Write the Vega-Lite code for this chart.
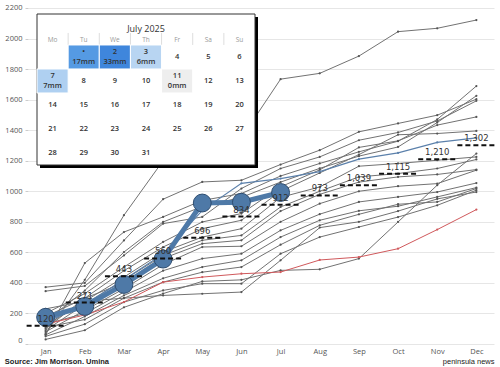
{
  "$schema": "https://vega.github.io/schema/vega-lite/v6.json",
  "width": 466,
  "height": 340,
  "autosize": {"type": "none"},
  "padding": {"left": 28, "top": 4, "right": 6, "bottom": 23},
  "config": {"view": {"stroke": null}, "font": "Open Sans"},
  "title": {"text": "Source: Jim Morrison. Umina", "orient": "bottom", "anchor": "start", "frame": "bounds", "font": "Liberation Sans", "fontSize": 7.5, "fontWeight": "bold", "color": "#222", "offset": -7},
  "datasets": {
    "series": [
      {"year":2006,"month":"Jan","value":70},{"year":2006,"month":"Feb","value":420},{"year":2006,"month":"Mar","value":843},{"year":2006,"month":"Apr","value":1200},{"year":2006,"month":"May","value":1250},{"year":2006,"month":"Jun","value":1350},{"year":2006,"month":"Jul","value":1734},{"year":2006,"month":"Aug","value":1772},{"year":2006,"month":"Sep","value":1885},{"year":2006,"month":"Oct","value":2045},{"year":2006,"month":"Nov","value":2067},{"year":2006,"month":"Dec","value":2121},
      {"year":2007,"month":"Jan","value":60},{"year":2007,"month":"Feb","value":530},{"year":2007,"month":"Mar","value":733},{"year":2007,"month":"Apr","value":832},{"year":2007,"month":"May","value":940},{"year":2007,"month":"Jun","value":985},{"year":2007,"month":"Jul","value":1100},{"year":2007,"month":"Aug","value":1182},{"year":2007,"month":"Sep","value":1258},{"year":2007,"month":"Oct","value":1328},{"year":2007,"month":"Nov","value":1470},{"year":2007,"month":"Dec","value":1689},
      {"year":2008,"month":"Jan","value":150},{"year":2008,"month":"Feb","value":350},{"year":2008,"month":"Mar","value":602},{"year":2008,"month":"Apr","value":799},{"year":2008,"month":"May","value":900},{"year":2008,"month":"Jun","value":960},{"year":2008,"month":"Jul","value":1060},{"year":2008,"month":"Aug","value":1150},{"year":2008,"month":"Sep","value":1230},{"year":2008,"month":"Oct","value":1290},{"year":2008,"month":"Nov","value":1450},{"year":2008,"month":"Dec","value":1625},
      {"year":2009,"month":"Jan","value":372},{"year":2009,"month":"Feb","value":400},{"year":2009,"month":"Mar","value":678},{"year":2009,"month":"Apr","value":948},{"year":2009,"month":"May","value":1061},{"year":2009,"month":"Jun","value":1072},{"year":2009,"month":"Jul","value":1175},{"year":2009,"month":"Aug","value":1269},{"year":2009,"month":"Sep","value":1389},{"year":2009,"month":"Oct","value":1444},{"year":2009,"month":"Nov","value":1498},{"year":2009,"month":"Dec","value":1603},
      {"year":2010,"month":"Jan","value":346},{"year":2010,"month":"Feb","value":380},{"year":2010,"month":"Mar","value":580},{"year":2010,"month":"Apr","value":788},{"year":2010,"month":"May","value":832},{"year":2010,"month":"Jun","value":1018},{"year":2010,"month":"Jul","value":1149},{"year":2010,"month":"Aug","value":1225},{"year":2010,"month":"Sep","value":1334},{"year":2010,"month":"Oct","value":1385},{"year":2010,"month":"Nov","value":1460},{"year":2010,"month":"Dec","value":1592},
      {"year":2011,"month":"Jan","value":200},{"year":2011,"month":"Feb","value":330},{"year":2011,"month":"Mar","value":504},{"year":2011,"month":"Apr","value":668},{"year":2011,"month":"May","value":799},{"year":2011,"month":"Jun","value":854},{"year":2011,"month":"Jul","value":1029},{"year":2011,"month":"Aug","value":1140},{"year":2011,"month":"Sep","value":1287},{"year":2011,"month":"Oct","value":1330},{"year":2011,"month":"Nov","value":1433},{"year":2011,"month":"Dec","value":1487},
      {"year":2012,"month":"Jan","value":100},{"year":2012,"month":"Feb","value":300},{"year":2012,"month":"Mar","value":480},{"year":2012,"month":"Apr","value":635},{"year":2012,"month":"May","value":755},{"year":2012,"month":"Jun","value":810},{"year":2012,"month":"Jul","value":1000},{"year":2012,"month":"Aug","value":1120},{"year":2012,"month":"Sep","value":1240},{"year":2012,"month":"Oct","value":1370},{"year":2012,"month":"Nov","value":1378},{"year":2012,"month":"Dec","value":1395},
      {"year":2013,"month":"Jan","value":30},{"year":2013,"month":"Feb","value":90},{"year":2013,"month":"Mar","value":240},{"year":2013,"month":"Apr","value":330},{"year":2013,"month":"May","value":410},{"year":2013,"month":"Jun","value":420},{"year":2013,"month":"Jul","value":482},{"year":2013,"month":"Aug","value":489},{"year":2013,"month":"Sep","value":559},{"year":2013,"month":"Oct","value":799},{"year":2013,"month":"Nov","value":1040},{"year":2013,"month":"Dec","value":1247},
      {"year":2014,"month":"Jan","value":120},{"year":2014,"month":"Feb","value":280},{"year":2014,"month":"Mar","value":438},{"year":2014,"month":"Apr","value":602},{"year":2014,"month":"May","value":700},{"year":2014,"month":"Jun","value":755},{"year":2014,"month":"Jul","value":960},{"year":2014,"month":"Aug","value":1028},{"year":2014,"month":"Sep","value":1164},{"year":2014,"month":"Oct","value":1182},{"year":2014,"month":"Nov","value":1203},{"year":2014,"month":"Dec","value":1225},
      {"year":2015,"month":"Jan","value":90},{"year":2015,"month":"Feb","value":260},{"year":2015,"month":"Mar","value":420},{"year":2015,"month":"Apr","value":580},{"year":2015,"month":"May","value":679},{"year":2015,"month":"Jun","value":711},{"year":2015,"month":"Jul","value":897},{"year":2015,"month":"Aug","value":1000},{"year":2015,"month":"Sep","value":1094},{"year":2015,"month":"Oct","value":1116},{"year":2015,"month":"Nov","value":1149},{"year":2015,"month":"Dec","value":1208},
      {"year":2016,"month":"Jan","value":180},{"year":2016,"month":"Feb","value":300},{"year":2016,"month":"Mar","value":400},{"year":2016,"month":"Apr","value":560},{"year":2016,"month":"May","value":657},{"year":2016,"month":"Jun","value":679},{"year":2016,"month":"Jul","value":870},{"year":2016,"month":"Aug","value":980},{"year":2016,"month":"Sep","value":1060},{"year":2016,"month":"Oct","value":1094},{"year":2016,"month":"Nov","value":1110},{"year":2016,"month":"Dec","value":1142},
      {"year":2017,"month":"Jan","value":80},{"year":2017,"month":"Feb","value":220},{"year":2017,"month":"Mar","value":362},{"year":2017,"month":"Apr","value":520},{"year":2017,"month":"May","value":635},{"year":2017,"month":"Jun","value":640},{"year":2017,"month":"Jul","value":800},{"year":2017,"month":"Aug","value":919},{"year":2017,"month":"Sep","value":1000},{"year":2017,"month":"Oct","value":1033},{"year":2017,"month":"Nov","value":1050},{"year":2017,"month":"Dec","value":1138},
      {"year":2018,"month":"Jan","value":130},{"year":2018,"month":"Feb","value":200},{"year":2018,"month":"Mar","value":340},{"year":2018,"month":"Apr","value":480},{"year":2018,"month":"May","value":559},{"year":2018,"month":"Jun","value":591},{"year":2018,"month":"Jul","value":744},{"year":2018,"month":"Aug","value":850},{"year":2018,"month":"Sep","value":930},{"year":2018,"month":"Oct","value":963},{"year":2018,"month":"Nov","value":995},{"year":2018,"month":"Dec","value":1054},
      {"year":2020,"month":"Jan","value":60},{"year":2020,"month":"Feb","value":180},{"year":2020,"month":"Mar","value":318},{"year":2020,"month":"Apr","value":430},{"year":2020,"month":"May","value":504},{"year":2020,"month":"Jun","value":548},{"year":2020,"month":"Jul","value":700},{"year":2020,"month":"Aug","value":810},{"year":2020,"month":"Sep","value":872},{"year":2020,"month":"Oct","value":902},{"year":2020,"month":"Nov","value":963},{"year":2020,"month":"Dec","value":1024},
      {"year":2021,"month":"Jan","value":110},{"year":2021,"month":"Feb","value":160},{"year":2021,"month":"Mar","value":300},{"year":2021,"month":"Apr","value":405},{"year":2021,"month":"May","value":470},{"year":2021,"month":"Jun","value":504},{"year":2021,"month":"Jul","value":650},{"year":2021,"month":"Aug","value":777},{"year":2021,"month":"Sep","value":849},{"year":2021,"month":"Oct","value":915},{"year":2021,"month":"Nov","value":930},{"year":2021,"month":"Dec","value":1018},
      {"year":2022,"month":"Jan","value":50},{"year":2022,"month":"Feb","value":130},{"year":2022,"month":"Mar","value":274},{"year":2022,"month":"Apr","value":351},{"year":2022,"month":"May","value":395},{"year":2022,"month":"Jun","value":395},{"year":2022,"month":"Jul","value":591},{"year":2022,"month":"Aug","value":700},{"year":2022,"month":"Sep","value":766},{"year":2022,"month":"Oct","value":831},{"year":2022,"month":"Nov","value":908},{"year":2022,"month":"Dec","value":1007},
      {"year":2023,"month":"Jan","value":230},{"year":2023,"month":"Feb","value":280},{"year":2023,"month":"Mar","value":300},{"year":2023,"month":"Apr","value":318},{"year":2023,"month":"May","value":329},{"year":2023,"month":"Jun","value":340},{"year":2023,"month":"Jul","value":548},{"year":2023,"month":"Aug","value":762},{"year":2023,"month":"Sep","value":800},{"year":2023,"month":"Oct","value":870},{"year":2023,"month":"Nov","value":950},{"year":2023,"month":"Dec","value":995},
      {"year":2019,"month":"Jan","value":130},{"year":2019,"month":"Feb","value":190},{"year":2019,"month":"Mar","value":275},{"year":2019,"month":"Apr","value":405},{"year":2019,"month":"May","value":438},{"year":2019,"month":"Jun","value":460},{"year":2019,"month":"Jul","value":471},{"year":2019,"month":"Aug","value":550},{"year":2019,"month":"Sep","value":569},{"year":2019,"month":"Oct","value":624},{"year":2019,"month":"Nov","value":749},{"year":2019,"month":"Dec","value":880},
      {"year":2024,"month":"Jan","value":140},{"year":2024,"month":"Feb","value":260},{"year":2024,"month":"Mar","value":420},{"year":2024,"month":"Apr","value":590},{"year":2024,"month":"May","value":875},{"year":2024,"month":"Jun","value":1052},{"year":2024,"month":"Jul","value":1083},{"year":2024,"month":"Aug","value":1129},{"year":2024,"month":"Sep","value":1210},{"year":2024,"month":"Oct","value":1251},{"year":2024,"month":"Nov","value":1320},{"year":2024,"month":"Dec","value":1350},
      {"year":2025,"month":"Jan","value":175},{"year":2025,"month":"Feb","value":246},{"year":2025,"month":"Mar","value":390},{"year":2025,"month":"Apr","value":556},{"year":2025,"month":"May","value":923},{"year":2025,"month":"Jun","value":928},{"year":2025,"month":"Jul","value":992}
    ],
    "avg": [
      {"month":"Jan","value":120},{"month":"Feb","value":271},{"month":"Mar","value":443},{"month":"Apr","value":560},{"month":"May","value":696},{"month":"Jun","value":834},{"month":"Jul","value":912},{"month":"Aug","value":973},{"month":"Sep","value":1039},{"month":"Oct","value":1115},{"month":"Nov","value":1210},{"month":"Dec","value":1302}
    ],
    "days": [
      {"day":1,"label":"•","dow":2,"week":1,"mm":17,"rain":"17mm"},
      {"day":2,"label":"2","dow":3,"week":1,"mm":33,"rain":"33mm"},
      {"day":3,"label":"3","dow":4,"week":1,"mm":6,"rain":"6mm"},
      {"day":4,"label":"4","dow":5,"week":1},
      {"day":5,"label":"5","dow":6,"week":1},
      {"day":6,"label":"6","dow":7,"week":1},
      {"day":7,"label":"7","dow":1,"week":2,"mm":7,"rain":"7mm"},
      {"day":8,"label":"8","dow":2,"week":2},
      {"day":9,"label":"9","dow":3,"week":2},
      {"day":10,"label":"10","dow":4,"week":2},
      {"day":11,"label":"11","dow":5,"week":2,"mm":0,"rain":"0mm"},
      {"day":12,"label":"12","dow":6,"week":2},
      {"day":13,"label":"13","dow":7,"week":2},
      {"day":14,"label":"14","dow":1,"week":3},
      {"day":15,"label":"15","dow":2,"week":3},
      {"day":16,"label":"16","dow":3,"week":3},
      {"day":17,"label":"17","dow":4,"week":3},
      {"day":18,"label":"18","dow":5,"week":3},
      {"day":19,"label":"19","dow":6,"week":3},
      {"day":20,"label":"20","dow":7,"week":3},
      {"day":21,"label":"21","dow":1,"week":4},
      {"day":22,"label":"22","dow":2,"week":4},
      {"day":23,"label":"23","dow":3,"week":4},
      {"day":24,"label":"24","dow":4,"week":4},
      {"day":25,"label":"25","dow":5,"week":4},
      {"day":26,"label":"26","dow":6,"week":4},
      {"day":27,"label":"27","dow":7,"week":4},
      {"day":28,"label":"28","dow":1,"week":5},
      {"day":29,"label":"29","dow":2,"week":5},
      {"day":30,"label":"30","dow":3,"week":5},
      {"day":31,"label":"31","dow":4,"week":5}
    ],
    "weekdays": [
      {"name":"Mo","dow":1},{"name":"Tu","dow":2},{"name":"We","dow":3},{"name":"Th","dow":4},{"name":"Fr","dow":5},{"name":"Sa","dow":6},{"name":"Su","dow":7}
    ],
    "caltitle": [{"title":"July 2025"}]
  },
  "layer": [
    {
      "encoding": {
        "x": {"field": "month", "type": "ordinal", "scale": {"type": "point", "domain": ["Jan","Feb","Mar","Apr","May","Jun","Jul","Aug","Sep","Oct","Nov","Dec"], "padding": 0.45},
          "axis": {"labelAngle": 0, "labelFontSize": 7.5, "labelColor": "#555", "ticks": false, "domain": false, "labelPadding": 3, "grid": false, "title": "peninsula news", "titleAnchor": "end", "titleFont": "Liberation Sans", "titleFontSize": 7.5, "titleFontWeight": "normal", "titleColor": "#222", "titlePadding": 3}},
        "y": {"field": "value", "type": "quantitative", "scale": {"domain": [0, 2226], "nice": false, "zero": false},
          "axis": {"values": [0,200,400,600,800,1000,1200,1400,1600,1800,2000,2200], "format": "d", "labelFontSize": 7.5, "labelColor": "#555", "tickColor": "#ccc", "tickSize": 3, "labelPadding": 3, "domain": false, "gridColor": "#e6e6e6", "title": null, "labelFlush": true, "labelFlushOffset": 0}}
      },
      "layer": [
        {"data": {"name": "series"}, "transform": [{"filter": "datum.year < 2024 && datum.year != 2019"}],
          "mark": {"type": "line", "color": "#727272", "strokeWidth": 1, "point": {"filled": true, "size": 5, "color": "#555"}},
          "encoding": {"detail": {"field": "year"}}},
        {"data": {"name": "series"}, "transform": [{"filter": "datum.year == 2019"}],
          "mark": {"type": "line", "color": "#d0595c", "strokeWidth": 1, "point": {"filled": true, "size": 5, "color": "#d0595c"}}},
        {"data": {"name": "series"}, "transform": [{"filter": "datum.year == 2024"}],
          "mark": {"type": "line", "color": "#5b80ab", "strokeWidth": 1.2, "point": {"filled": true, "size": 5, "color": "#5b80ab"}}},
        {"data": {"name": "series"}, "transform": [{"filter": "datum.year == 2025"}],
          "mark": {"type": "line", "color": "#4e79a7", "strokeWidth": 5}},
        {"data": {"name": "series"}, "transform": [{"filter": "datum.year == 2025"}],
          "mark": {"type": "circle", "size": 320, "fill": "#4e79a7", "stroke": "#2e4d70", "strokeWidth": 1, "opacity": 1}},
        {"data": {"name": "avg"},
          "mark": {"type": "rule", "color": "#111", "strokeWidth": 2, "strokeDash": [5, 3], "xOffset": -19, "x2Offset": 19},
          "encoding": {"x2": {"field": "month"}}},
        {"data": {"name": "avg"},
          "mark": {"type": "text", "font": "DejaVu Sans", "fontSize": 8.5, "color": "#333", "baseline": "bottom", "dy": -2},
          "encoding": {"text": {"field": "value", "type": "quantitative", "format": ","}}}
      ]
    },
    {
      "layer": [
        {"data": {"name": "caltitle"},
          "mark": {"type": "rect", "fill": "#000", "xOffset": 3, "x2Offset": 3, "yOffset": 3, "y2Offset": 3},
          "encoding": {
            "x": {"datum": 0.5, "type": "quantitative", "scale": {"domain": [0.5, 7.5], "range": [9, 227], "nice": false, "zero": false}, "axis": null},
            "x2": {"datum": 7.5},
            "y": {"datum": -0.79, "type": "quantitative", "scale": {"domain": [-0.79, 5.5], "range": [10, 161], "nice": false, "zero": false}, "axis": null},
            "y2": {"datum": 5.5}}},
        {"data": {"name": "caltitle"},
          "mark": {"type": "rect", "fill": "#fff", "stroke": "#333", "strokeWidth": 1},
          "encoding": {
            "x": {"datum": 0.5, "type": "quantitative", "axis": null},
            "x2": {"datum": 7.5},
            "y": {"datum": -0.79, "type": "quantitative", "axis": null},
            "y2": {"datum": 5.5}}},
        {"data": {"name": "caltitle"},
          "mark": {"type": "text", "fontSize": 9, "color": "#333", "font": "Open Sans"},
          "encoding": {
            "x": {"datum": 4, "type": "quantitative", "axis": null},
            "y": {"datum": -0.15, "type": "quantitative", "axis": null},
            "text": {"field": "title"}}},
        {"data": {"name": "weekdays"}, "transform": [{"filter": "datum.dow < 7"}],
          "mark": {"type": "rule", "color": "#dddddd", "strokeWidth": 1, "xOffset": 15.57},
          "encoding": {
            "x": {"field": "dow", "type": "quantitative", "axis": null},
            "y": {"datum": 0.0, "type": "quantitative", "axis": null},
            "y2": {"datum": 0.5}}},
        {"data": {"name": "weekdays"},
          "mark": {"type": "text", "fontSize": 6.5, "color": "#999", "font": "Open Sans"},
          "encoding": {
            "x": {"field": "dow", "type": "quantitative", "axis": null},
            "y": {"datum": 0.29, "type": "quantitative", "axis": null},
            "text": {"field": "name"}}},
        {"data": {"name": "days"},
          "mark": {"type": "rect", "xOffset": -15.57, "x2Offset": 15.57, "yOffset": -12, "y2Offset": 12, "stroke": "#ffffff", "strokeWidth": 1},
          "encoding": {
            "x": {"field": "dow", "type": "quantitative", "axis": null},
            "x2": {"field": "dow"},
            "y": {"field": "week", "type": "quantitative", "axis": null},
            "y2": {"field": "week"},
            "color": {"condition": {"test": "datum.mm > 0", "field": "mm", "type": "quantitative", "scale": {"domain": [6, 17, 33], "range": ["#b8d5f2", "#559ae3", "#3f86dc"]}, "legend": null}, "value": "#eeeeee"}}},
        {"data": {"name": "days"}, "transform": [{"filter": "!datum.rain"}],
          "mark": {"type": "text", "fontSize": 7.5, "fontWeight": 600, "color": "#333", "font": "Open Sans"},
          "encoding": {
            "x": {"field": "dow", "type": "quantitative", "axis": null},
            "y": {"field": "week", "type": "quantitative", "axis": null},
            "text": {"field": "label"}}},
        {"data": {"name": "days"}, "transform": [{"filter": "datum.rain"}],
          "mark": {"type": "text", "fontSize": 7.5, "fontWeight": 600, "color": "#333", "font": "Open Sans", "dy": -5},
          "encoding": {
            "x": {"field": "dow", "type": "quantitative", "axis": null},
            "y": {"field": "week", "type": "quantitative", "axis": null},
            "text": {"field": "label"}}},
        {"data": {"name": "days"}, "transform": [{"filter": "datum.rain"}],
          "mark": {"type": "text", "fontSize": 7.5, "fontWeight": 600, "color": "#333", "font": "Open Sans", "dy": 5},
          "encoding": {
            "x": {"field": "dow", "type": "quantitative", "axis": null},
            "y": {"field": "week", "type": "quantitative", "axis": null},
            "text": {"field": "rain"}}}
      ]
    }
  ],
  "resolve": {"scale": {"x": "independent", "y": "independent"}}
}
